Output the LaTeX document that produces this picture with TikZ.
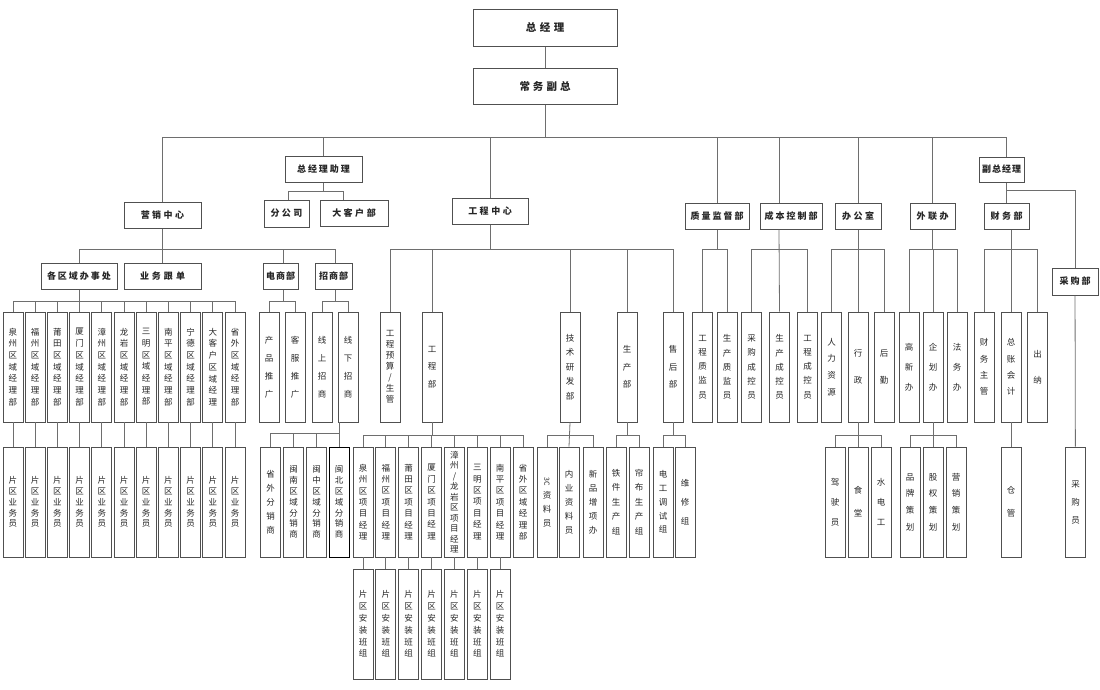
\documentclass[tikz,border=0pt]{standalone}
\usepackage{fontspec}
\setmainfont{Noto Sans CJK SC}
\usepackage{graphicx}
\definecolor{boxc}{HTML}{505050}
\definecolor{linec}{HTML}{6E6E6E}
\definecolor{txtc}{HTML}{262626}
\makeatletter
\newcommand\vstk[2]{\edef\vs@arg{#2}\vbox{\baselineskip=#1\relax\lineskiplimit=-100pt\relax\lineskip=0pt\relax\expandafter\vs@loop\expandafter{\vs@arg}}}
\def\vs@loop#1{\@tfor\vs@c:=#1\do{\hbox to 10pt{\hss\vs@c\hss}}}
\newcommand\hsp[2]{\edef\hs@arg{#2}\def\hs@sep{}\expandafter\hs@loop\expandafter{\hs@arg}{#1}}
\def\hs@loop#1#2{\@tfor\hs@c:=#1\do{\hs@sep\hs@c\def\hs@sep{\kern#2}}}
\makeatother
\tikzset{
  hb/.style={draw=boxc, line width=1pt, fill=white, inner sep=0pt, text=txtc,
    font=\bfseries\fontsize{9}{11}\selectfont},
  topb/.style={hb, minimum width=144pt, font=\bfseries\fontsize{10.5}{12}\selectfont},
  vb/.style={draw=boxc, line width=0.9pt, fill=white, inner sep=0pt, text=txtc,
    minimum width=20pt, minimum height=110pt, font=\fontsize{8.5}{9}\selectfont},
  ln/.style={draw=linec, line width=0.8pt}
}
\begin{document}
\begin{tikzpicture}[x=1pt,y=-1pt]
\useasboundingbox (0,0) rectangle (1100,689);
% junction levels
\coordinate (Y137) at (0,137);
\coordinate (Y190) at (0,190);
\coordinate (Y191) at (0,191);
\coordinate (Y249) at (0,249);
\coordinate (Y301) at (0,301);
\coordinate (Y433) at (0,433);
\coordinate (Y435) at (0,435);

% ---------- horizontal boxes ----------
\node[topb, minimum height=37pt] (gm) at (545,27.5) {\hsp{3.5pt}{总经理}};
\node[topb, minimum height=36pt] (vp) at (545,86) {\hsp{3pt}{常务副总}};
\node[hb, minimum width=77pt, minimum height=26pt] (yx) at (162.5,215) {\hsp{2.5pt}{营销中心}};
\node[hb, minimum width=77pt, minimum height=26pt] (zl) at (323.5,169) {\hsp{2pt}{总经理助理}};
\node[hb, minimum width=76pt, minimum height=26pt] (gc) at (490,211) {\hsp{2.5pt}{工程中心}};
\node[hb, minimum width=64pt, minimum height=26pt] (zj) at (717,216) {\hsp{2pt}{质量监督部}};
\node[hb, minimum width=62pt, minimum height=26pt] (cb) at (791,216) {\hsp{2pt}{成本控制部}};
\node[hb, minimum width=46pt, minimum height=26pt] (bg) at (858,216) {\hsp{2.5pt}{办公室}};
\node[hb, minimum width=45pt, minimum height=26pt] (wl) at (932.5,216) {\hsp{2.5pt}{外联办}};
\node[hb, minimum width=45pt, minimum height=25pt] (fz) at (1001.5,169.5) {\hsp{1pt}{副总经理}};
\node[hb, minimum width=45pt, minimum height=26pt] (cw) at (1006.5,216) {\hsp{2.5pt}{财务部}};
\node[hb, minimum width=46pt, minimum height=27pt] (cg) at (1075,281.5) {\hsp{2pt}{采购部}};
\node[hb, minimum width=45pt, minimum height=27pt] (fgs) at (286.5,213.5) {\hsp{2.5pt}{分公司}};
\node[hb, minimum width=68pt, minimum height=26pt] (dkh) at (354,213) {\hsp{2.5pt}{大客户部}};
\node[hb, minimum width=76pt, minimum height=26pt] (gq) at (79,276) {\hsp{2pt}{各区域办事处}};
\node[hb, minimum width=77pt, minimum height=26pt] (yw) at (162.5,276) {\hsp{3pt}{业务跟单}};
\node[hb, minimum width=35pt, minimum height=26pt] (ds) at (280.5,276) {\hsp{1pt}{电商部}};
\node[hb, minimum width=37pt, minimum height=26pt] (zs) at (333.5,276) {\hsp{1pt}{招商部}};

% ---------- vertical boxes ----------
\foreach \t [count=\i] in {泉州区域经理部,福州区域经理部,莆田区域经理部,厦门区域经理部,漳州区域经理部,龙岩区域经理部,三明区域经理部,南平区域经理部,宁德区域经理部,大客户区域经理,省外区域经理部}{
  \node[vb] (r\i) at ({13+22.2*(\i-1)},367) {\vstk{11.7pt}{\t}};
  \node[vb] (s\i) at ({13+22.2*(\i-1)},502) {\vstk{10.8pt}{片区业务员}};
}
\node[vb] (ds1) at (269,367) {\vstk{18pt}{产品推广}};
\node[vb] (ds2) at (295,367) {\vstk{18pt}{客服推广}};
\node[vb] (zs1) at (322,367) {\vstk{18pt}{线上招商}};
\node[vb] (zs2) at (348,367) {\vstk{18pt}{线下招商}};
\node[vb] (m1) at (270.5,502) {\vstk{14pt}{省外分销商}};
\node[vb] (m2) at (293.5,502) {\vstk{10.8pt}{闽南区域分销商}};
\node[vb] (m3) at (316.5,502) {\vstk{10.8pt}{闽中区域分销商}};
\node[vb, draw=black] (m4) at (339,502) {\vstk{10.8pt}{闽北区域分销商}};

\node[vb] (g1) at (390,367) {\vstk{11pt}{工程预算/生管}};
\node[vb] (g2) at (432,367) {\vstk{17.5pt}{工程部}};
\node[vb] (g3) at (570,367) {\vstk{14.6pt}{技术研发部}};
\node[vb] (g4) at (627,367) {\vstk{17.5pt}{生产部}};
\node[vb] (g5) at (673,367) {\vstk{17.5pt}{售后部}};

\foreach \t [count=\i] in {泉州区项目经理,福州区项目经理,莆田区项目经理,厦门区项目经理}{
  \node[vb] (p\i) at ({363+22.857*(\i-1)},502) {\vstk{11.4pt}{\t}};
}
\node[vb] (p5) at ({363+22.857*4},502) {\vstk{10.5pt}{漳州/龙岩区项目经理}};
\node[vb] (p6) at ({363+22.857*5},502) {\vstk{11.4pt}{三明区项目经理}};
\node[vb] (p7) at ({363+22.857*6},502) {\vstk{11.4pt}{南平区项目经理}};
\node[vb] (p8) at ({363+22.857*7},502) {\vstk{11.4pt}{省外区域经理部}};
\foreach \i in {1,...,7}{
  \node[vb] (a\i) at ({363+22.857*(\i-1)},624) {\vstk{11.8pt}{片区安装班组}};
}
\node[vb] (t1) at (547,502) {\vbox{\baselineskip=14pt\lineskiplimit=-100pt\lineskip=0pt
  \hbox to 10pt{\hss\rotatebox[origin=c]{-90}{\fontsize{7}{7}\selectfont 3C}\hss}
  \hbox to 10pt{\hss 资\hss}\hbox to 10pt{\hss 料\hss}\hbox to 10pt{\hss 员\hss}}};
\node[vb] (t2) at (569,502) {\vstk{14pt}{内业资料员}};
\node[vb] (t3) at (593,502) {\vstk{14pt}{新品增项办}};
\node[vb] (sc1) at (616,502) {\vstk{14.5pt}{铁件生产组}};
\node[vb] (sc2) at (639,502) {\vstk{14.5pt}{帘布生产组}};
\node[vb] (sh1) at (663,502) {\vstk{13.7pt}{电工调试组}};
\node[vb] (sh2) at (685,502) {\vstk{19pt}{维修组}};

\node[vb] (q1) at (702.5,367) {\vstk{14.2pt}{工程质监员}};
\node[vb] (q2) at (727,367) {\vstk{14.2pt}{生产质监员}};
\node[vb] (c1) at (751.5,367) {\vstk{14.2pt}{采购成控员}};
\node[vb] (c2) at (779.5,367) {\vstk{14.2pt}{生产成控员}};
\node[vb] (c3) at (807.5,367) {\vstk{14.2pt}{工程成控员}};
\node[vb] (b1) at (831.5,367) {\vstk{16.7pt}{人力资源}};
\node[vb] (b2) at (858,367) {\vstk{27pt}{行政}};
\node[vb] (b3) at (884,367) {\vstk{27pt}{后勤}};
\node[vb] (w1) at (909,367) {\vstk{20pt}{高新办}};
\node[vb] (w2) at (933,367) {\vstk{20pt}{企划办}};
\node[vb] (w3) at (957,367) {\vstk{20pt}{法务办}};
\node[vb] (f1) at (984,367) {\vstk{16.3pt}{财务主管}};
\node[vb] (f2) at (1011,367) {\vstk{16.3pt}{总账会计}};
\node[vb] (f3) at (1037.5,367) {\vstk{26pt}{出纳}};

\node[vb] (x1) at (835,502) {\vstk{20pt}{驾驶员}};
\node[vb] (x2) at (858,502) {\vstk{23pt}{食堂}};
\node[vb] (x3) at (881,502) {\vstk{20pt}{水电工}};
\node[vb] (h1) at (910,502) {\vstk{16.7pt}{品牌策划}};
\node[vb] (h2) at (933,502) {\vstk{16.7pt}{股权策划}};
\node[vb] (h3) at (956,502) {\vstk{16.7pt}{营销策划}};
\node[vb] (cgg) at (1011,502) {\vstk{23pt}{仓管}};
\node[vb] (cgy) at (1075.5,502) {\vstk{18pt}{采购员}};

% ---------- connectors ----------
\draw[ln] (gm) -- (vp);
\draw[ln] (vp.south) -- (vp.south |- Y137);
\draw[ln] (yx.north) -- (yx.north |- Y137) -- ([xshift=4.5pt]fz.north |- Y137) -- ([xshift=4.5pt]fz.north);
\foreach \n in {zl,gc,zj,bg,wl}{\draw[ln] (\n.north |- Y137) -- (\n.north);}
\draw[ln] ([xshift=-12pt]cb.north |- Y137) -- ([xshift=-12pt]cb.north);

% 总经理助理
\draw[ln] (zl.south) -- (zl.south |- Y191);
\draw[ln] ([xshift=1.5pt]fgs.north) -- ([xshift=1.5pt]fgs.north |- Y191) -- ([xshift=-11pt]dkh.north |- Y191) -- ([xshift=-11pt]dkh.north);

% 营销中心
\draw[ln] (yx.south) -- (yw.north);
\draw[ln] (gq.north) -- (gq.north |- Y249) -- ([xshift=1.5pt]zs.north |- Y249) -- ([xshift=1.5pt]zs.north);
\draw[ln] ([xshift=2.5pt]ds.north |- Y249) -- ([xshift=2.5pt]ds.north);

% 各区域办事处
\draw[ln] (gq.south) -- (gq.south |- Y301);
\draw[ln] (r1.north |- Y301) -- (r11.north |- Y301);
\foreach \i in {1,...,11}{
  \draw[ln] (r\i.north |- Y301) -- (r\i.north);
  \draw[ln] (r\i) -- (s\i);
}
% 电商部 / 招商部
\draw[ln] ([xshift=2.5pt]ds.south) -- ([xshift=2.5pt]ds.south |- Y301);
\draw[ln] (ds1.north) -- (ds1.north |- Y301) -- (ds2.north |- Y301) -- (ds2.north);
\draw[ln] ([xshift=1.5pt]zs.south) -- ([xshift=1.5pt]zs.south |- Y301);
\draw[ln] (zs1.north) -- (zs1.north |- Y301) -- (zs2.north |- Y301) -- (zs2.north);
\draw[ln] ([xshift=-9pt]zs2.south) -- (m4.north);
\draw[ln] (m1.north) -- (m1.north |- Y433) -- (m4.north |- Y433);
\foreach \n in {m2,m3}{\draw[ln] (\n.north |- Y433) -- (\n.north);}

% 工程中心
\draw[ln] (gc.south) -- (gc.south |- Y249);
\draw[ln] (g1.north) -- (g1.north |- Y249) -- (g5.north |- Y249) -- (g5.north);
\foreach \n in {g2,g3,g4}{\draw[ln] (\n.north |- Y249) -- (\n.north);}
% 工程部
\draw[ln] (g2.south) -- (g2.south |- Y435);
\draw[ln] (p1.north |- Y435) -- (p8.north |- Y435);
\foreach \i in {1,...,8}{\draw[ln] (p\i.north |- Y435) -- (p\i.north);}
\foreach \i in {1,...,7}{\draw[ln] (p\i) -- (a\i);}
% 技术研发部
\draw[ln] (g3.south) -- (t2.north);
\draw[ln] (t1.north) -- (t1.north |- Y435) -- (t3.north |- Y435) -- (t3.north);
% 生产部
\draw[ln] (g4.south) -- (g4.south |- Y435);
\draw[ln] (sc1.north) -- (sc1.north |- Y435) -- (sc2.north |- Y435) -- (sc2.north);
% 售后部
\draw[ln] (g5.south) -- (g5.south |- Y435);
\draw[ln] (sh1.north) -- (sh1.north |- Y435) -- (sh2.north |- Y435) -- (sh2.north);

% 质量监督部
\draw[ln] (zj.south) -- (zj.south |- Y249);
\draw[ln] (q1.north) -- (q1.north |- Y249) -- (q2.north |- Y249) -- (q2.north);
% 成本控制部
\draw[ln] ([xshift=-12pt]cb.south) -- (c2.north);
\draw[ln] (c1.north) -- (c1.north |- Y249) -- (c3.north |- Y249) -- (c3.north);
% 办公室
\draw[ln] (bg.south) -- (b2.north);
\draw[ln] (b1.north) -- (b1.north |- Y249) -- (b3.north |- Y249) -- (b3.north);
\draw[ln] (b2.south) -- (x2.north);
\draw[ln] (x1.north) -- (x1.north |- Y435) -- (x3.north |- Y435) -- (x3.north);
% 外联办
\draw[ln] (wl.south) -- (wl.south |- Y249);
\draw[ln] (w1.north) -- (w1.north |- Y249) -- (w3.north |- Y249) -- (w3.north);
\draw[ln] (w2.north |- Y249) -- (w2.north);
\draw[ln] (w2.south) -- (h2.north);
\draw[ln] (h1.north) -- (h1.north |- Y435) -- (h3.north |- Y435) -- (h3.north);
% 副总经理
\draw[ln] ([xshift=4.5pt]fz.south) -- ([xshift=4.5pt]fz.south |- cw.north);
\draw[ln] ([xshift=4.5pt]fz.south |- Y190) -- (cg.north |- Y190) -- (cg.north);
% 财务部
\draw[ln] ([xshift=4.5pt]cw.south) -- (f2.north);
\draw[ln] (f1.north) -- (f1.north |- Y249) -- (f3.north |- Y249) -- (f3.north);
\draw[ln] (f2) -- (cgg);
% 采购部
\draw[ln] (cg) -- (cgy);
\end{tikzpicture}
\end{document}
